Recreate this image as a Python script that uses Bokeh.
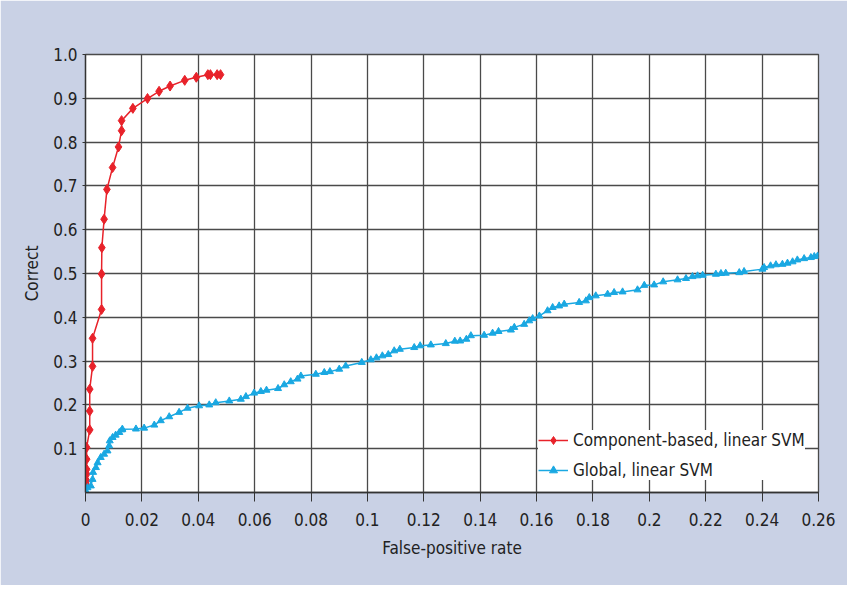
from bokeh.plotting import figure
from bokeh.models import FixedTicker, Legend, LegendItem
from bokeh.embed import file_html
from bokeh.resources import INLINE

# Component-based, linear SVM (red diamonds)
comp_x = [0.0, 0.0004, 0.0004, 0.0004, 0.0004, 0.0004, 0.0004, 0.0015, 0.0015, 0.0015,
          0.0025, 0.0025, 0.0057, 0.0057, 0.0058, 0.0066, 0.0076, 0.0096, 0.0117, 0.0128,
          0.0128, 0.0168, 0.022, 0.0261, 0.030, 0.0352, 0.0393, 0.0434, 0.0443, 0.0467, 0.0479]
comp_y = [0.0, 0.015, 0.027, 0.042, 0.053, 0.076, 0.103, 0.143, 0.186, 0.236,
          0.288, 0.352, 0.418, 0.499, 0.559, 0.624, 0.692, 0.742, 0.789, 0.826,
          0.849, 0.877, 0.8995, 0.916, 0.928, 0.941, 0.948, 0.954, 0.954, 0.954, 0.954]

# Global, linear SVM (blue triangles)
glob_x = [0.0, 0.0001, 0.0007, 0.0019, 0.0025, 0.0027, 0.0037, 0.0043, 0.0054, 0.0066,
          0.0078, 0.0084, 0.0086, 0.0096, 0.0107, 0.012, 0.0129, 0.0131, 0.0179, 0.0208,
          0.0244, 0.0267, 0.0297, 0.0332, 0.0362, 0.0403, 0.0439, 0.0462, 0.051, 0.0551,
          0.0569, 0.0598, 0.0622, 0.0642, 0.0683, 0.0705, 0.0728, 0.0752, 0.0764, 0.0817,
          0.0847, 0.0867, 0.090, 0.0923, 0.098, 0.1012, 0.1032, 0.1053, 0.1074, 0.1095,
          0.1115, 0.1166, 0.1187, 0.1225, 0.1278, 0.131, 0.1329, 0.1351, 0.1367, 0.1414,
          0.1444, 0.1465, 0.1509, 0.1521, 0.1556, 0.1574, 0.1586, 0.161, 0.1639, 0.1657,
          0.168, 0.1698, 0.1751, 0.1775, 0.1787, 0.181, 0.1852, 0.1875, 0.1905, 0.1958,
          0.1982, 0.2017, 0.2049, 0.21, 0.213, 0.2153, 0.2171, 0.2189, 0.2236, 0.2254,
          0.2271, 0.2319, 0.2336, 0.2401, 0.2407, 0.243, 0.2449, 0.2472, 0.249, 0.2508,
          0.2525, 0.2549, 0.2573, 0.2585, 0.2597]
glob_y = [0.0, 0.004, 0.011, 0.015, 0.030, 0.046, 0.057, 0.068, 0.080, 0.0875,
          0.095, 0.1066, 0.118, 0.1256, 0.131, 0.137, 0.143, 0.1445, 0.145, 0.147,
          0.154, 0.164, 0.173, 0.183, 0.1925, 0.198, 0.200, 0.205, 0.209, 0.213,
          0.219, 0.227, 0.2306, 0.2336, 0.2374, 0.246, 0.253, 0.259, 0.266, 0.270,
          0.274, 0.276, 0.2816, 0.289, 0.297, 0.303, 0.3075, 0.312, 0.315, 0.3235,
          0.327, 0.331, 0.335, 0.337, 0.340, 0.3455, 0.346, 0.350, 0.358, 0.359,
          0.3638, 0.3676, 0.371, 0.377, 0.384, 0.392, 0.397, 0.403, 0.415, 0.4224,
          0.426, 0.43, 0.434, 0.4376, 0.445, 0.449, 0.4528, 0.4566, 0.458, 0.4627,
          0.473, 0.474, 0.481, 0.4856, 0.4886, 0.493, 0.4947, 0.496, 0.4984, 0.5,
          0.5007, 0.502, 0.5046, 0.51, 0.5137, 0.5175, 0.52, 0.521, 0.5236, 0.5267,
          0.531, 0.534, 0.5365, 0.5388, 0.540]

x_ticks = [0.0, 0.02, 0.04, 0.06, 0.08, 0.1, 0.12, 0.14, 0.16, 0.18, 0.2, 0.22, 0.24, 0.26]
x_tick_labels = ["0", "0.02", "0.04", "0.06", "0.08", "0.1", "0.12", "0.14", "0.16",
                 "0.18", "0.2", "0.22", "0.24", "0.26"]
y_ticks = [0.1, 0.2, 0.3, 0.4, 0.5, 0.6, 0.7, 0.8, 0.9, 1.0]
y_tick_labels = ["0.1", "0.2", "0.3", "0.4", "0.5", "0.6", "0.7", "0.8", "0.9", "1.0"]

FONT = "DejaVu Sans Condensed"
BG = "#c9d1e5"
RED = "#e8222a"
BLUE = "#1aa8e2"
GRID = "#4a4a4a"

p = figure(width=847, height=585, output_backend="svg", toolbar_location=None,
           x_range=(0, 0.26), y_range=(0, 1.0),
           min_border_left=85, min_border_right=29, min_border_top=54, min_border_bottom=93)
p.border_fill_color = BG
p.background_fill_color = "white"
p.outline_line_color = GRID
p.outline_line_width = 1.3

p.xaxis.ticker = FixedTicker(ticks=x_ticks)
p.yaxis.ticker = FixedTicker(ticks=y_ticks)
p.xaxis.major_label_overrides = dict(zip(x_ticks, x_tick_labels))
p.yaxis.major_label_overrides = dict(zip(y_ticks, y_tick_labels))
p.xgrid.ticker = FixedTicker(ticks=x_ticks)
p.ygrid.ticker = FixedTicker(ticks=y_ticks)
for g in (p.xgrid, p.ygrid):
    g.grid_line_color = GRID
    g.grid_line_width = 1.3

for ax in (p.xaxis, p.yaxis):
    ax.axis_line_color = "#333"
    ax.axis_line_width = 1.3
    ax.major_tick_line_color = "#333"
    ax.minor_tick_line_color = None
    ax.major_label_text_font = FONT
    ax.major_label_text_font_size = "17px"
    ax.major_label_text_color = "#222"
    ax.axis_label_text_font = FONT
    ax.axis_label_text_font_size = "17px"
    ax.axis_label_text_font_style = "normal"
    ax.axis_label_text_color = "#222"
    ax.major_tick_in = 0

p.xaxis.major_tick_out = 9
p.xaxis.major_label_standoff = 11
p.yaxis.major_tick_out = 3
p.yaxis.major_label_standoff = 5
p.xaxis.axis_label = "False-positive rate"
p.yaxis.axis_label = "Correct"
p.xaxis.axis_label_standoff = 9
p.yaxis.axis_label_standoff = 8

l1 = p.line(comp_x, comp_y, line_color=RED, line_width=1.5)
s1 = p.scatter(comp_x, comp_y, marker="diamond", size=10, fill_color=RED, line_color=RED)
l2 = p.line(glob_x, glob_y, line_color=BLUE, line_width=1.5)
s2 = p.scatter(glob_x, glob_y, marker="triangle", size=7, fill_color=BLUE, line_color=BLUE)

legend = Legend(items=[LegendItem(label="Component-based, linear SVM", renderers=[l1, s1]),
                       LegendItem(label="Global, linear SVM", renderers=[l2, s2])],
                location=(453, 12))
legend.label_text_font = FONT
legend.label_text_font_size = "17px"
legend.label_text_color = "#222"
legend.glyph_width = 30
legend.glyph_height = 20
legend.label_height = 20
legend.label_standoff = 5
legend.spacing = 10
legend.padding = 5
legend.margin = 0
legend.border_line_color = None
legend.background_fill_color = "white"
legend.background_fill_alpha = 1.0
p.add_layout(legend)

open("out.html", "w").write(file_html(p, INLINE))
